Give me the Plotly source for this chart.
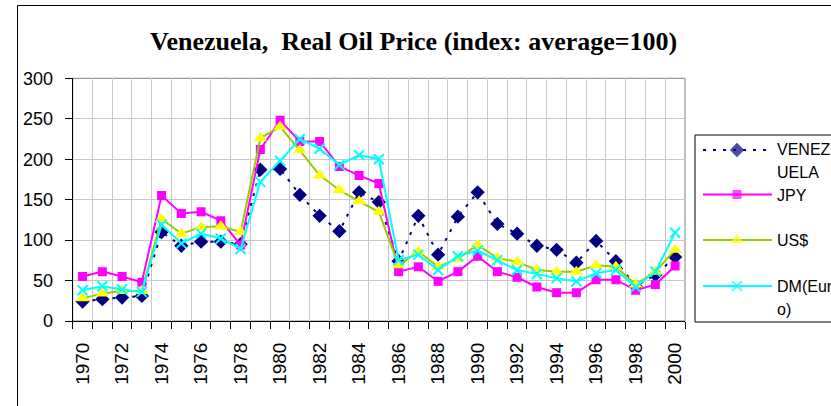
import plotly.graph_objects as go

W, H = 831, 406

years = list(range(1970, 2001))
year_labels = [str(y) for y in range(1970, 2001, 2)]
venezuela = [24, 27, 29, 31, 110, 93, 98, 98, 95, 187, 188, 156, 130, 111, 159, 147,
             74, 130, 82, 129, 159, 120, 108, 93, 88, 72, 99, 74, 43, 57, 79]
jpy = [55, 61, 55, 48, 155, 133, 135, 124, 94, 212, 248, 222, 222, 191, 180, 170,
       61, 67, 49, 61, 80, 61, 54, 42, 35, 35, 51, 51, 38, 45, 68]
usd = [28, 34, 37, 37, 126, 108, 116, 117, 110, 226, 240, 211, 180, 162, 148, 135,
       69, 86, 67, 77, 94, 78, 73, 63, 61, 61, 69, 67, 45, 61, 88]
dm = [38, 43, 39, 36, 119, 96, 108, 102, 89, 172, 198, 225, 213, 193, 205, 200,
      75, 82, 63, 80, 87, 75, 63, 58, 53, 49, 59, 63, 42, 61, 109]
y_ticks = [0, 50, 100, 150, 200, 250, 300]

series = [
    dict(name="VENEZUELA", y=venezuela, lcolor="#000080", dash="3px,7px", lwidth=2,
         symbol="diamond", mcolor="#000080", msize=11, mline=0, mlinecolor="#000080"),
    dict(name="JPY", y=jpy, lcolor="#FF00FF", dash="solid", lwidth=2,
         symbol="square", mcolor="#FF00FF", msize=9, mline=0, mlinecolor="#FF00FF"),
    dict(name="US$", y=usd, lcolor="#99CC00", dash="solid", lwidth=2,
         symbol="triangle-up", mcolor="#FFFF00", msize=12, mline=0, mlinecolor="#FFFF00"),
    dict(name="DM(Euro)", y=dm, lcolor="#00FFFF", dash="solid", lwidth=2,
         symbol="x-thin", mcolor="#00FFFF", msize=10, mline=2, mlinecolor="#00FFFF"),
]

fig = go.Figure()
for s in series:
    fig.add_trace(go.Scatter(
        x=years, y=s["y"], mode="lines+markers", name=s["name"], showlegend=False,
        line=dict(color=s["lcolor"], width=s["lwidth"], dash=s["dash"]),
        marker=dict(symbol=s["symbol"], color=s["mcolor"], size=s["msize"],
                    line=dict(width=s["mline"], color=s["mlinecolor"])),
        xaxis="x", yaxis="y",
    ))

# custom legend (pixel-like coordinates on a hidden axis pair)
leg_rows = [150, 194.5, 240, 286]
for s, yc in zip(series, leg_rows):
    fig.add_trace(go.Scatter(
        x=[703, 737, 772], y=[yc, yc, yc], mode="lines+markers", showlegend=False,
        hoverinfo="skip",
        line=dict(color=s["lcolor"], width=s["lwidth"], dash=s["dash"]),
        marker=dict(symbol=s["symbol"], color=s["mcolor"], size=[0, s["msize"], 0],
                    line=dict(width=s["mline"], color=s["mlinecolor"])),
        xaxis="x2", yaxis="y2", cliponaxis=False,
    ))

leg_text = [("VENEZ", 149), ("UELA", 172), ("JPY", 195), ("US$", 240),
            ("DM(Eur", 286), ("o)", 309)]
annotations = []
for t, yc in leg_text:
    annotations.append(dict(text=t, x=775, y=yc, xref="x2", yref="y2",
                            xanchor="left", yanchor="middle", showarrow=False,
                            font=dict(family="Liberation Sans, Arial", size=16, color="black")))

annotations.append(dict(
    text="<b>Venezuela,  Real Oil Price (index: average=100)</b>",
    x=413.5 / W, y=1 - 41 / H, xref="paper", yref="paper",
    xanchor="center", yanchor="middle", showarrow=False,
    font=dict(family="Liberation Serif, Times New Roman", size=26, color="black")))

x0p, x1p = 72.7 / W, 685 / W
y0p, y1p = 1 - 321 / H, 1 - 78.3 / H

shapes = [
    # outer chart border
    dict(type="rect", xref="paper", yref="paper", x0=17.5 / W, x1=1.2,
         y0=-0.2, y1=1 - 5.5 / H, line=dict(color="black", width=1), layer="above"),
    # plot area grey frame
    dict(type="rect", xref="x domain", yref="y domain", x0=0, x1=1, y0=0, y1=1,
         line=dict(color="#808080", width=1), layer="below"),
    # legend box
    dict(type="rect", xref="paper", yref="paper", x0=695 / W, x1=1.2,
         y0=1 - 322 / H, y1=1 - 135 / H, line=dict(color="black", width=1), layer="above"),
]

fig.update_layout(
    width=W, height=H,
    margin=dict(l=0, r=0, t=0, b=0, autoexpand=False),
    paper_bgcolor="white", plot_bgcolor="white",
    showlegend=False,
    annotations=annotations, shapes=shapes,
    xaxis=dict(
        domain=[x0p, x1p], range=[1969.5, 2000.5],
        tickmode="array", tickvals=list(range(1970, 2001, 2)), ticktext=year_labels,
        ticks="outside", ticklen=7, tickcolor="rgba(0,0,0,0)",
        ticklabelstandoff=6,
        tickangle=-90, tickfont=dict(family="Liberation Sans, Arial", size=19, color="black"),
        showgrid=False, zeroline=False,
        showline=True, linecolor="black", linewidth=1,
        minor=dict(tickmode="array", tickvals=[y + 0.5 for y in range(1969, 2001)],
                   ticks="outside", ticklen=7, tickcolor="black", tickwidth=1,
                   showgrid=True, gridcolor="#C8C8C8", gridwidth=1),
        fixedrange=True,
    ),
    yaxis=dict(
        domain=[y0p, y1p], range=[0, 300],
        tickmode="array", tickvals=y_ticks,
        ticks="outside", ticklen=7, tickcolor="black",
        ticklabelstandoff=8,
        tickfont=dict(family="Liberation Sans, Arial", size=18, color="black"),
        showgrid=True, gridcolor="#C8C8C8", gridwidth=1,
        zeroline=False, showline=True, linecolor="black", linewidth=1,
        fixedrange=True,
    ),
    xaxis2=dict(domain=[695 / W, 1.0], range=[695, 831], visible=False, fixedrange=True,
                anchor="y2"),
    yaxis2=dict(domain=[1 - 322 / H, 1 - 135 / H], range=[322, 135], visible=False,
                fixedrange=True, anchor="x2"),
)

fig.write_html(
    "out.html",
    config={"displayModeBar": False},
    post_script="document.body.style.margin='0px';document.body.style.overflow='hidden';",
)
